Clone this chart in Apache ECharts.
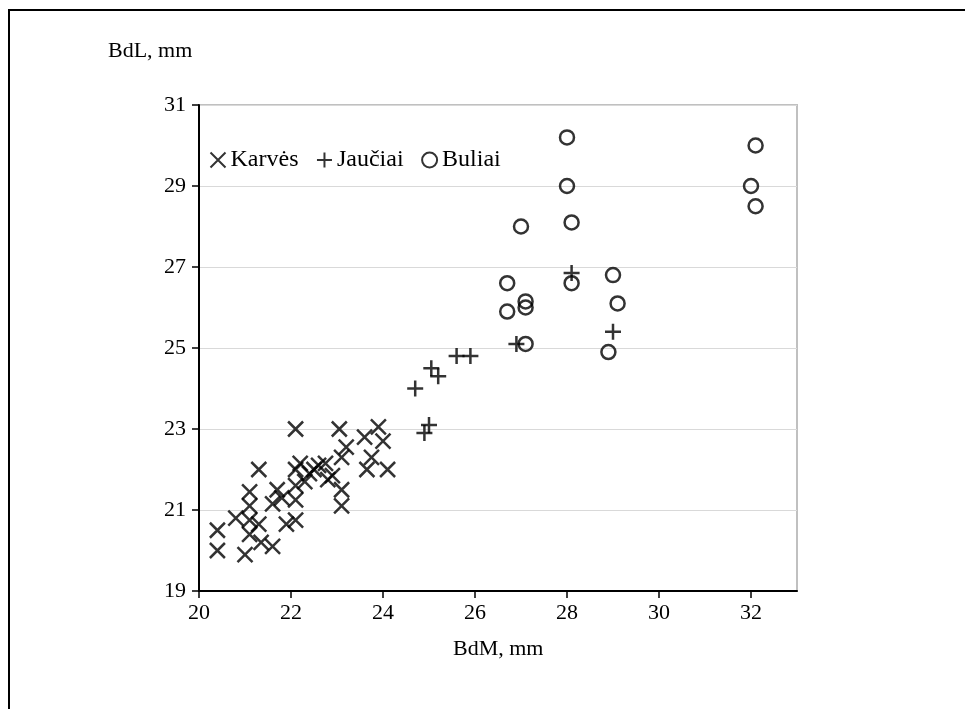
<!DOCTYPE html>
<html>
<head>
<meta charset="utf-8">
<script src="https://cdn.jsdelivr.net/npm/echarts@6/dist/echarts.min.js"></script>
<style>
  html, body { margin: 0; padding: 0; background: #fff; }
  #chart { width: 965px; height: 709px; }
</style>
</head>
<body>
<div id="chart"></div>
<script>
// Karvės (x), Jaučiai (+), Buliai (o)
const karvesX = [20.4, 20.4, 20.8, 21.0, 21.1, 21.1, 21.1, 21.1, 21.3, 21.3, 21.35, 21.6, 21.6, 21.7, 21.8, 21.9, 22.1, 22.1, 22.1, 22.1, 22.1, 22.2, 22.4, 22.5, 22.75, 22.8, 22.9, 23.05, 23.1, 23.2, 23.1, 23.1, 23.6, 23.65, 23.75, 23.9, 24.0, 24.1, 22.6, 22.3];
const karvesY = [20.5, 20.0, 20.8, 19.9, 21.45, 21.1, 20.75, 20.4, 22.0, 20.65, 20.2, 20.1, 21.15, 21.5, 21.3, 20.65, 20.75, 21.25, 21.6, 22.0, 23.0, 22.15, 21.9, 22.0, 22.15, 21.75, 21.85, 23.0, 22.3, 22.55, 21.5, 21.1, 22.8, 22.0, 22.3, 23.05, 22.7, 22.0, 22.1, 21.7];

const jauciaiX = [24.7, 24.9, 25.0, 25.05, 25.2, 25.6, 25.9, 26.9, 28.1, 29.0];
const jauciaiY = [24.0, 22.9, 23.1, 24.5, 24.3, 24.8, 24.8, 25.1, 26.85, 25.4];

const buliaiX = [26.7, 26.7, 27.0, 27.1, 27.1, 27.1, 28.0, 28.0, 28.1, 28.1, 29.0, 29.1, 28.9, 32.0, 32.1, 32.1];
const buliaiY = [26.6, 25.9, 28.0, 26.15, 26.0, 25.1, 30.2, 29.0, 28.1, 26.6, 26.8, 26.1, 24.9, 29.0, 28.5, 30.0];

const xTicks = [20, 22, 24, 26, 28, 30, 32];
const yTicks = [19, 21, 23, 25, 27, 29, 31];

const FONT = "'Liberation Serif', 'Times New Roman', serif";
const pairs = (xs, ys) => xs.map((x, i) => [x, ys[i]]);

const crossPath = "path://M0,0L10,10M10,0L0,10";
const plusPath = "path://M5,0L5,10M0,5L10,5";

let myChart = echarts.init(document.getElementById("chart"));
const option = {
  backgroundColor: "#fff",
  animation: false,
  grid: {
    left: 199,
    top: 105,
    right: 168,
    bottom: 118,
    show: true,
    borderColor: "#c0c0c0",
    borderWidth: 2,
    backgroundColor: "#fff"
  },
  legend: {
    left: 203,
    top: 143,
    itemGap: 16,
    itemWidth: 15,
    itemHeight: 15,
    textStyle: { fontFamily: FONT, fontSize: 24, color: "#000" },
    data: ["Karvės", "Jaučiai", "Buliai"]
  },
  xAxis: {
    type: "value",
    min: 20,
    max: 33,
    interval: 2,
    axisLine: { lineStyle: { color: "#000", width: 2 } },
    axisTick: { show: true, length: 7, customValues: xTicks, lineStyle: { color: "#000", width: 1.5 } },
    axisLabel: { customValues: xTicks, margin: 11, fontFamily: FONT, fontSize: 22, color: "#000" },
    splitLine: { show: false }
  },
  yAxis: {
    type: "value",
    min: 19,
    max: 31,
    interval: 2,
    axisLine: { show: true, lineStyle: { color: "#000", width: 2 } },
    axisTick: { show: true, length: 7, customValues: yTicks, lineStyle: { color: "#000", width: 1.5 } },
    axisLabel: { customValues: yTicks, margin: 13, fontFamily: FONT, fontSize: 22, color: "#000" },
    splitLine: { show: true, lineStyle: { color: "#d9d9d9", width: 1 } }
  },
  graphic: [
    {
      type: "rect",
      shape: { x: 9, y: 10, width: 1200, height: 1000 },
      style: { fill: "none", stroke: "#000", lineWidth: 2 },
      z: -1
    },
    {
      type: "text",
      left: 108,
      top: 40,
      style: { text: "BdL, mm", font: "22px " + FONT, fill: "#000" }
    },
    {
      type: "text",
      left: 453,
      top: 638,
      style: { text: "BdM, mm", font: "22px " + FONT, fill: "#000" }
    }
  ],
  series: [
    {
      name: "Karvės",
      type: "scatter",
      symbol: crossPath,
      symbolSize: 15,
      itemStyle: { color: "none", borderColor: "#000", borderWidth: 2.5 },
      data: pairs(karvesX, karvesY)
    },
    {
      name: "Jaučiai",
      type: "scatter",
      symbol: plusPath,
      symbolSize: 16,
      itemStyle: { color: "none", borderColor: "#000", borderWidth: 2.5 },
      data: pairs(jauciaiX, jauciaiY)
    },
    {
      name: "Buliai",
      type: "scatter",
      symbol: "circle",
      symbolSize: 14,
      itemStyle: { color: "none", borderColor: "#000", borderWidth: 2.5 },
      data: pairs(buliaiX, buliaiY)
    }
  ]
};
myChart.setOption(option);
</script>
</body>
</html>
